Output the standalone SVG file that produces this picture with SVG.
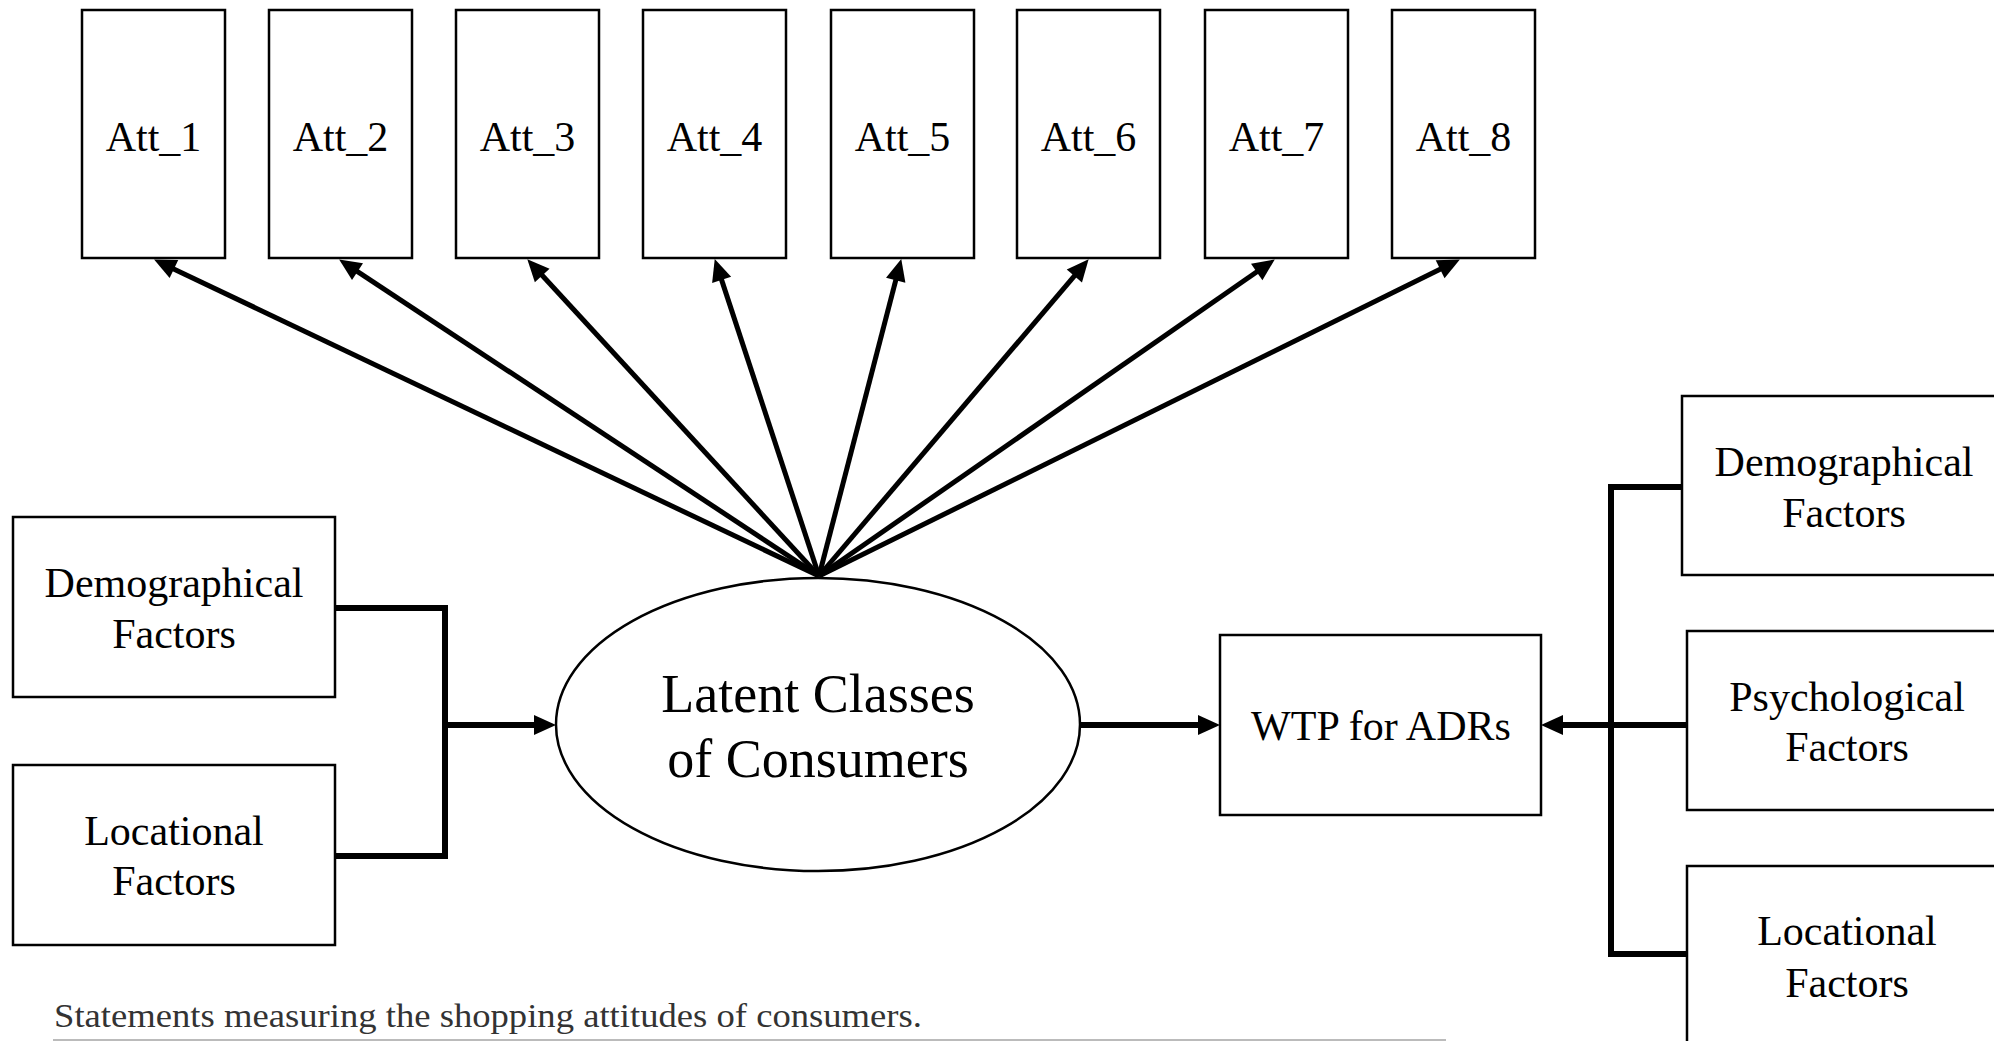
<svg xmlns="http://www.w3.org/2000/svg" width="1994" height="1041" viewBox="0 0 1994 1041">
<style>
.box{fill:#fff;stroke:#000;stroke-width:2.5}
.lbl{font-family:"Liberation Serif","Times New Roman",serif;font-size:42px;fill:#000;text-anchor:middle}
.big{font-size:54px}
.con{fill:none;stroke:#000;stroke-width:6}
.fan{fill:none;stroke:#000;stroke-width:5}
</style>
<defs>
<marker id="ah" markerUnits="userSpaceOnUse" markerWidth="22" markerHeight="20" refX="9" refY="10" orient="auto" overflow="visible">
<path d="M0,0 L22,10 L0,20 z" fill="#000"/>
</marker>
</defs>
<rect width="1994" height="1041" fill="#fff"/>
<g id="att1"><rect class="box" x="82" y="10" width="143" height="248"/><text class="lbl" x="153.5" y="151">Att_1</text></g>
<g id="att2"><rect class="box" x="269" y="10" width="143" height="248"/><text class="lbl" x="340.5" y="151">Att_2</text></g>
<g id="att3"><rect class="box" x="456" y="10" width="143" height="248"/><text class="lbl" x="527.5" y="151">Att_3</text></g>
<g id="att4"><rect class="box" x="643" y="10" width="143" height="248"/><text class="lbl" x="714.5" y="151">Att_4</text></g>
<g id="att5"><rect class="box" x="831" y="10" width="143" height="248"/><text class="lbl" x="902.5" y="151">Att_5</text></g>
<g id="att6"><rect class="box" x="1017" y="10" width="143" height="248"/><text class="lbl" x="1088.5" y="151">Att_6</text></g>
<g id="att7"><rect class="box" x="1205" y="10" width="143" height="248"/><text class="lbl" x="1276.5" y="151">Att_7</text></g>
<g id="att8"><rect class="box" x="1392" y="10" width="143" height="248"/><text class="lbl" x="1463.5" y="151">Att_8</text></g>
<g id="demo-left"><rect class="box" x="13" y="517" width="322" height="180"/><text class="lbl" x="174" y="597">Demographical</text><text class="lbl" x="174" y="648">Factors</text></g>
<g id="loc-left"><rect class="box" x="13" y="765" width="322" height="180"/><text class="lbl" x="174" y="845">Locational</text><text class="lbl" x="174" y="895">Factors</text></g>
<g id="latent"><ellipse cx="818" cy="724.5" rx="262" ry="146.5" fill="#fff" stroke="#000" stroke-width="2.5"/><text class="lbl big" x="818" y="712">Latent Classes</text><text class="lbl big" x="818" y="777">of Consumers</text></g>
<g id="wtp"><rect class="box" x="1220" y="635" width="321" height="180"/><text class="lbl" x="1381" y="740">WTP for ADRs</text></g>
<g id="demo-right"><rect class="box" x="1682" y="396" width="330" height="179"/><text class="lbl" x="1844" y="476">Demographical</text><text class="lbl" x="1844" y="527">Factors</text></g>
<g id="psych-right"><rect class="box" x="1687" y="631" width="325" height="179"/><text class="lbl" x="1847" y="711">Psychological</text><text class="lbl" x="1847" y="761">Factors</text></g>
<g id="loc-right"><rect class="box" x="1687" y="866" width="325" height="190"/><text class="lbl" x="1847" y="945">Locational</text><text class="lbl" x="1847" y="997">Factors</text></g>
<g id="connectors">
<path class="fan" d="M819,576 L165.8,265.2" marker-end="url(#ah)"/>
<path class="fan" d="M819,576 L350.0,266.6" marker-end="url(#ah)"/>
<path class="fan" d="M819,576 L536.1,268.8" marker-end="url(#ah)"/>
<path class="fan" d="M819,576 L718.8,271.4" marker-end="url(#ah)"/>
<path class="fan" d="M819,576 L898.0,271.6" marker-end="url(#ah)"/>
<path class="fan" d="M819,576 L1080.2,269.1" marker-end="url(#ah)"/>
<path class="fan" d="M819,576 L1264.1,266.8" marker-end="url(#ah)"/>
<path class="fan" d="M819,576 L1448.2,265.3" marker-end="url(#ah)"/>
<path class="con" d="M335,608 H445 V856 H335"/>
<path class="con" d="M445,725 H543" marker-end="url(#ah)"/>
<path class="con" d="M1081,725 H1207" marker-end="url(#ah)"/>
<path class="con" d="M1682,487 H1611 V954 H1687"/>
<path class="con" d="M1687,725 H1554" marker-end="url(#ah)"/>
</g>
<text x="54" y="1027" font-family="'Liberation Serif','Times New Roman',serif" font-size="34" fill="#333" textLength="868" lengthAdjust="spacingAndGlyphs">Statements measuring the shopping attitudes of consumers.</text>
<line x1="53" y1="1040" x2="1446" y2="1040" stroke="#bbb" stroke-width="2"/>
</svg>
